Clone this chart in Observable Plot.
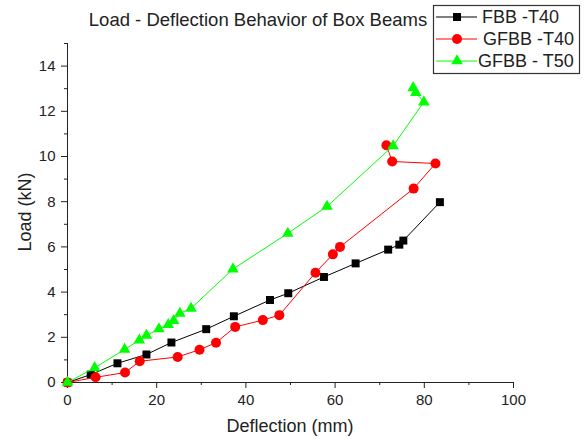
<!DOCTYPE html>
<html>
<head>
<meta charset="utf-8">
<script src="https://cdn.jsdelivr.net/npm/d3@7"></script>
<script src="https://cdn.jsdelivr.net/npm/@observablehq/plot@0.6"></script>
<style>
  html, body { margin: 0; padding: 0; background: #fff; }
  #chart { width: 586px; height: 439px; }
</style>
</head>
<body>
<div id="chart"></div>
<script>
// ---- Data ----
const seriesNames = ["FBB -T40", "GFBB -T40", "GFBB - T50"];
const fbbDefl = [0, 5.2, 11.2, 17.7, 23.3, 31.1, 37.3, 45.4, 49.5, 57.5, 64.6, 71.9, 74.4, 75.3, 83.5];
const fbbLoad = [0, 0.35, 0.85, 1.24, 1.77, 2.36, 2.93, 3.65, 3.95, 4.67, 5.27, 5.88, 6.1, 6.28, 7.98];
const gfbb40Defl = [0, 6.3, 12.9, 16.2, 24.7, 29.6, 33.3, 37.6, 43.8, 47.5, 55.6, 59.5, 61.1, 77.6, 82.5, 72.8, 71.5];
const gfbb40Load = [0, 0.23, 0.44, 0.94, 1.13, 1.45, 1.76, 2.46, 2.76, 2.98, 4.86, 5.67, 6.0, 8.58, 9.69, 9.78, 10.5];
const gfbb50Defl = [0, 6.1, 12.8, 16.1, 17.7, 20.5, 22.6, 23.8, 25.2, 27.7, 37.1, 49.4, 58.2, 73.0, 79.9, 78.1, 77.5];
const gfbb50Load = [0, 0.65, 1.46, 1.87, 2.08, 2.37, 2.56, 2.74, 3.06, 3.28, 5.02, 6.6, 7.79, 10.47, 12.41, 12.82, 13.04];
const xMajorTicks = [0, 20, 40, 60, 80, 100];
const xMinorTicks = [10, 30, 50, 70, 90];
const yMajorTicks = [0, 2, 4, 6, 8, 10, 12, 14];
const yMinorTicks = [1, 3, 5, 7, 9, 11, 13, 15];

const colors = ["#000000", "#ff0000", "#00ff00"];
const symbols = ["square", "circle", "triangle"];
const radii = [4.5, 5, 4.3];

const toRows = (xs, ys) => xs.map((x, i) => ({x, y: ys[i]}));
const series = [toRows(fbbDefl, fbbLoad), toRows(gfbb40Defl, gfbb40Load), toRows(gfbb50Defl, gfbb50Load)];

const font = "'Liberation Sans', Arial, sans-serif";
const W = 586, H = 439;

const seriesMarks = series.flatMap((rows, i) => [
  Plot.line(rows, {x: "x", y: "y", stroke: colors[i], strokeWidth: 1}),
  Plot.dot(rows, {x: "x", y: "y", symbol: symbols[i], fill: colors[i], stroke: "none", r: radii[i]})
]);

const chart = Plot.plot({
  width: W,
  height: H,
  marginLeft: 67,
  marginRight: 73,
  marginTop: 43,
  marginBottom: 57,
  x: {domain: [0, 100]},
  y: {domain: [0, 15]},
  style: {fontFamily: font, fontSize: "15px", color: "#222", background: "#fff", overflow: "visible"},
  marks: [
    Plot.axisX(xMajorTicks, {tickSize: 6, tickPadding: 6, label: null, fontSize: 15}),
    Plot.axisX(xMinorTicks, {tickSize: 3, fill: "none", label: null}),
    Plot.axisY(yMajorTicks, {tickSize: 6, tickPadding: 6, label: null, fontSize: 15}),
    Plot.axisY(yMinorTicks, {tickSize: 3, fill: "none", label: null}),
    Plot.ruleX([0], {stroke: "#222"}),
    Plot.ruleY([0], {stroke: "#222"}),
    ...seriesMarks
  ]
});

document.getElementById("chart").appendChild(chart);

// ---- Title, axis labels, legend ----
const svg = d3.select(chart);
svg.append("text")
  .attr("x", 258).attr("y", 26)
  .attr("text-anchor", "middle")
  .attr("font-family", font).attr("font-size", 18.5).attr("fill", "#222")
  .text("Load - Deflection Behavior of Box Beams");

svg.append("text")
  .attr("x", 290).attr("y", 432)
  .attr("text-anchor", "middle")
  .attr("font-family", font).attr("font-size", 18).attr("fill", "#222")
  .text("Deflection (mm)");

svg.append("text")
  .attr("transform", "translate(31,212) rotate(-90)")
  .attr("text-anchor", "middle")
  .attr("font-family", font).attr("font-size", 18).attr("fill", "#222")
  .text("Load (kN)");

const lg = svg.append("g");
lg.append("rect")
  .attr("x", 433.5).attr("y", 5.5).attr("width", 146).attr("height", 68)
  .attr("fill", "#fff").attr("stroke", "#333").attr("stroke-width", 1.2);
const rowsY = [17, 39, 61];
const textX = [482, 483, 478];
seriesNames.forEach((name, i) => {
  const y = rowsY[i];
  lg.append("line")
    .attr("x1", 436).attr("x2", 477).attr("y1", y).attr("y2", y)
    .attr("stroke", colors[i]).attr("stroke-width", 1);
  const sym = {square: d3.symbolSquare, circle: d3.symbolCircle, triangle: d3.symbolTriangle}[symbols[i]];
  lg.append("path")
    .attr("transform", `translate(457,${y})`)
    .attr("d", d3.symbol(sym, Math.PI * radii[i] * radii[i])())
    .attr("fill", colors[i]);
  lg.append("text")
    .attr("x", textX[i]).attr("y", y).attr("dy", "0.36em")
    .attr("text-anchor", "start")
    .attr("font-family", font).attr("font-size", 18).attr("fill", "#222")
    .text(name);
});
</script>
</body>
</html>
